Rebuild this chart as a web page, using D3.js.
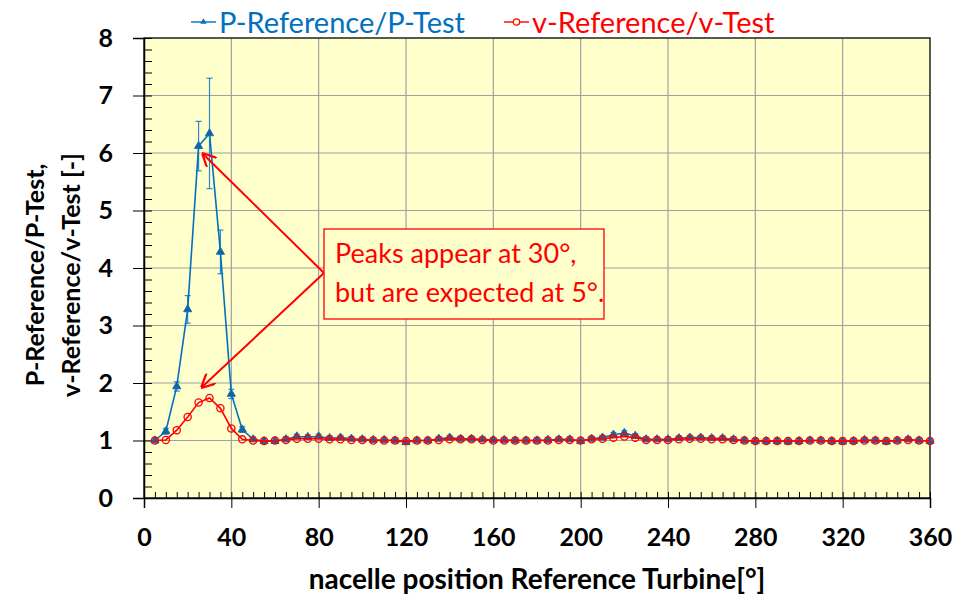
<!DOCTYPE html>
<html lang="en">
<head>
<meta charset="utf-8">
<script src="https://d3js.org/d3.v7.min.js"></script>
<style>
    body { margin: 0; background: #fff; }
    text { font-family: Lato, "Open Sans", sans-serif; }
</style>
</head>
<body>
<script>
    // nacelle position [deg]
    var angles = [5, 10, 15, 20, 25, 30, 35, 40, 45, 50, 55, 60, 65, 70, 75, 80, 85, 90,
        95, 100, 105, 110, 115, 120, 125, 130, 135, 140, 145, 150, 155, 160, 165, 170, 175, 180,
        185, 190, 195, 200, 205, 210, 215, 220, 225, 230, 235, 240, 245, 250, 255, 260, 265, 270,
        275, 280, 285, 290, 295, 300, 305, 310, 315, 320, 325, 330, 335, 340, 345, 350, 355, 360];

    // P-Reference/P-Test
    var pRatio = [1.00, 1.16, 1.94, 3.28, 6.12, 6.34, 4.28, 1.81, 1.19, 1.02, 0.99, 0.99, 1.02, 1.07, 1.06, 1.07, 1.04, 1.05,
        1.03, 1.02, 1.01, 1.01, 1.00, 0.97, 1.00, 1.00, 1.03, 1.05, 1.03, 1.03, 1.02, 1.01, 1.01, 1.00, 1.00, 1.00,
        1.01, 1.02, 1.02, 0.99, 1.03, 1.05, 1.10, 1.13, 1.08, 1.02, 1.02, 1.02, 1.04, 1.05, 1.05, 1.04, 1.04, 1.02,
        1.00, 0.99, 0.99, 0.99, 0.98, 0.99, 1.00, 1.00, 0.99, 0.98, 0.99, 1.01, 1.00, 0.98, 1.00, 1.02, 1.00, 0.99];

    // error bar half-width for P ratio
    var pError = [0.04, 0.05, 0.08, 0.24, 0.43, 0.96, 0.38, 0.08, 0.05, 0.04, 0.04, 0.04, 0.04, 0.04, 0.04, 0.04, 0.04, 0.04,
        0.04, 0.04, 0.04, 0.04, 0.04, 0.04, 0.04, 0.04, 0.04, 0.04, 0.04, 0.04, 0.04, 0.04, 0.04, 0.04, 0.04, 0.04,
        0.04, 0.04, 0.04, 0.04, 0.04, 0.04, 0.04, 0.04, 0.04, 0.04, 0.04, 0.04, 0.04, 0.04, 0.04, 0.04, 0.04, 0.04,
        0.04, 0.04, 0.04, 0.04, 0.04, 0.04, 0.04, 0.04, 0.04, 0.04, 0.04, 0.04, 0.04, 0.04, 0.04, 0.04, 0.04, 0.04];

    // v-Reference/v-Test
    var vRatio = [1.00, 1.01, 1.18, 1.41, 1.66, 1.74, 1.56, 1.21, 1.02, 1.00, 0.99, 1.00, 1.01, 1.03, 1.03, 1.03, 1.02, 1.02,
        1.01, 1.01, 1.00, 1.00, 1.00, 0.99, 1.00, 1.00, 1.01, 1.02, 1.02, 1.02, 1.01, 1.00, 1.00, 1.00, 1.00, 1.00,
        1.00, 1.01, 1.01, 1.00, 1.02, 1.03, 1.05, 1.07, 1.05, 1.01, 1.01, 1.01, 1.02, 1.03, 1.03, 1.02, 1.02, 1.01,
        1.00, 0.99, 0.99, 0.99, 0.99, 0.99, 1.00, 1.00, 0.99, 0.99, 0.99, 1.00, 1.00, 0.99, 1.00, 1.01, 1.00, 0.99];

    var xTicks = [0, 40, 80, 120, 160, 200, 240, 280, 320, 360];
    var yTicks = [0, 1, 2, 3, 4, 5, 6, 7, 8];
    var seriesNames = ["P-Reference/P-Test", "v-Reference/v-Test"];
    var noteLines = ["Peaks appear at 30°,", "but are expected at 5°."];

    var blue = "#0070C0", red = "#FF0000";

    var margin = {top: 38, right: 25, bottom: 100, left: 144},
        width = 955 - margin.left - margin.right,
        height = 598 - margin.top - margin.bottom;

    var svg = d3.select("body").append("svg")
        .attr("width", 955)
        .attr("height", 598);

    var g = svg.append("g").attr("transform", "translate(" + margin.left + "," + margin.top + ")");

    var x = d3.scaleLinear().domain([0, 360]).range([0, width]);
    var y = d3.scaleLinear().domain([0, 8]).range([height, 0]);

    // plot background
    g.append("rect")
        .attr("width", width)
        .attr("height", height)
        .attr("fill", "#FFFFCC");

    // grid
    g.append("g").selectAll("line.hg")
        .data(yTicks.slice(1, -1))
        .enter().append("line")
        .attr("x1", 0).attr("x2", width)
        .attr("y1", d => y(d)).attr("y2", d => y(d))
        .attr("stroke", "#A0A0A0").attr("stroke-width", 1.2);
    g.append("g").selectAll("line.vg")
        .data(xTicks.slice(1, -1))
        .enter().append("line")
        .attr("y1", 0).attr("y2", height)
        .attr("x1", d => x(d)).attr("x2", d => x(d))
        .attr("stroke", "#A0A0A0").attr("stroke-width", 1.2);

    // minor ticks pointing inside
    g.append("g")
        .call(d3.axisLeft(y).tickValues(d3.range(0, 8.01, 0.2)).tickSize(-8).tickFormat(""))
        .call(a => a.select(".domain").remove())
        .selectAll("line").attr("stroke", "#000");
    g.append("g")
        .attr("transform", "translate(0," + height + ")")
        .call(d3.axisBottom(x).tickValues(d3.range(0, 361, 5)).tickSize(-6).tickFormat(""))
        .call(a => a.select(".domain").remove())
        .selectAll("line").attr("stroke", "#000");

    // major axes
    var yAxis = g.append("g")
        .call(d3.axisLeft(y).tickValues(yTicks).tickSize(11).tickPadding(20).tickFormat(d3.format("d")));
    yAxis.selectAll("text")
        .style("font-size", "25px").style("font-weight", "bold").attr("fill", "#000");

    var xAxis = g.append("g")
        .attr("transform", "translate(0," + height + ")")
        .call(d3.axisBottom(x).tickValues(xTicks).tickSize(10).tickPadding(20));
    xAxis.selectAll("text")
        .style("font-size", "25px").style("font-weight", "bold").attr("fill", "#000");
    svg.selectAll(".domain").attr("stroke", "#000").attr("stroke-width", 1.5);

    // frame
    g.append("rect")
        .attr("width", width).attr("height", height)
        .attr("fill", "none").attr("stroke", "#000").attr("stroke-width", 1.3);

    // P series: error bars, line, markers
    var pData = angles.map((a, i) => ({a: a, v: pRatio[i], e: pError[i]}));
    var vData = angles.map((a, i) => ({a: a, v: vRatio[i]}));

    var eb = g.append("g").attr("stroke", "#2E86D0").attr("stroke-width", 1.2);
    eb.selectAll("line.bar").data(pData).enter().append("line")
        .attr("x1", d => x(d.a)).attr("x2", d => x(d.a))
        .attr("y1", d => y(d.v + d.e)).attr("y2", d => y(d.v - d.e));
    eb.selectAll("line.top").data(pData).enter().append("line")
        .attr("x1", d => x(d.a) - 3).attr("x2", d => x(d.a) + 3)
        .attr("y1", d => y(d.v + d.e)).attr("y2", d => y(d.v + d.e));
    eb.selectAll("line.bot").data(pData).enter().append("line")
        .attr("x1", d => x(d.a) - 3).attr("x2", d => x(d.a) + 3)
        .attr("y1", d => y(d.v - d.e)).attr("y2", d => y(d.v - d.e));

    var line = d3.line().x(d => x(d.a)).y(d => y(d.v));

    g.append("path").datum(pData)
        .attr("d", line).attr("fill", "none")
        .attr("stroke", blue).attr("stroke-width", 1.6);

    g.append("g").selectAll("path").data(pData).enter().append("path")
        .attr("d", d3.symbol().type(d3.symbolTriangle).size(28))
        .attr("transform", d => "translate(" + x(d.a) + "," + y(d.v) + ")")
        .attr("fill", "#1F5F9A").attr("stroke", blue).attr("stroke-width", 1);

    g.append("path").datum(vData)
        .attr("d", line).attr("fill", "none")
        .attr("stroke", red).attr("stroke-width", 1.6);

    g.append("g").selectAll("circle").data(vData).enter().append("circle")
        .attr("cx", d => x(d.a)).attr("cy", d => y(d.v)).attr("r", 3.6)
        .attr("fill", "none").attr("stroke", red).attr("stroke-width", 1.3);

    // annotation box with arrows
    var boxX = 324, boxY = 229, boxW = 280, boxH = 90;
    var apex = [324, 273];
    var defs = svg.append("defs");
    defs.append("marker")
        .attr("id", "arrow")
        .attr("viewBox", "0 0 10 10")
        .attr("refX", 9).attr("refY", 5)
        .attr("markerWidth", 7).attr("markerHeight", 7)
        .attr("orient", "auto")
        .append("path")
        .attr("d", "M0,0 L10,5 L0,10")
        .attr("fill", "none").attr("stroke", red).attr("stroke-width", 1.6);

    var targets = [[203, 154], [202, 387]];
    svg.append("g").selectAll("line").data(targets).enter().append("line")
        .attr("x1", apex[0]).attr("y1", apex[1])
        .attr("x2", d => d[0]).attr("y2", d => d[1])
        .attr("stroke", red).attr("stroke-width", 2)
        .attr("marker-end", "url(#arrow)");

    svg.append("rect")
        .attr("x", boxX).attr("y", boxY).attr("width", boxW).attr("height", boxH)
        .attr("fill", "#FFFFCC").attr("stroke", red).attr("stroke-width", 1.3);

    svg.append("g").selectAll("text").data(noteLines).enter().append("text")
        .attr("x", boxX + 11)
        .attr("y", (d, i) => boxY + 34 + i * 39)
        .attr("fill", red)
        .style("font-size", "27px")
        .text(d => d);

    // legend
    var legend = svg.append("g");
    var lg1 = legend.append("g").attr("transform", "translate(191,22)");
    lg1.append("line").attr("x1", 0).attr("x2", 25).attr("stroke", blue).attr("stroke-width", 1.4);
    lg1.append("path").attr("d", d3.symbol().type(d3.symbolTriangle).size(18))
        .attr("transform", "translate(12.5,0)").attr("fill", blue);
    lg1.append("text").attr("x", 28).attr("y", 11)
        .attr("fill", blue).style("font-size", "29px").text(seriesNames[0]);

    var lg2 = legend.append("g").attr("transform", "translate(504,22)");
    lg2.append("line").attr("x1", 0).attr("x2", 25).attr("stroke", red).attr("stroke-width", 1.4);
    lg2.append("circle").attr("cx", 12.5).attr("r", 3.2)
        .attr("fill", "#FFFFCC").attr("stroke", red).attr("stroke-width", 1.2);
    lg2.append("text").attr("x", 28).attr("y", 11)
        .attr("fill", red).style("font-size", "29px").text(seriesNames[1]);

    // axis titles
    svg.append("text")
        .attr("x", margin.left + width / 2).attr("y", 589)
        .attr("text-anchor", "middle")
        .style("font-size", "28px").style("font-weight", "bold")
        .text("nacelle position Reference Turbine[°]");

    var yTitle = svg.append("text")
        .attr("transform", "translate(0,275) rotate(-90)")
        .attr("text-anchor", "middle")
        .style("font-size", "25px").style("font-weight", "bold");
    yTitle.append("tspan").attr("x", 0).attr("y", 44).text("P-Reference/P-Test,");
    yTitle.append("tspan").attr("x", 0).attr("y", 80).text("v-Reference/v-Test [-]");
</script>
</body>
</html>
